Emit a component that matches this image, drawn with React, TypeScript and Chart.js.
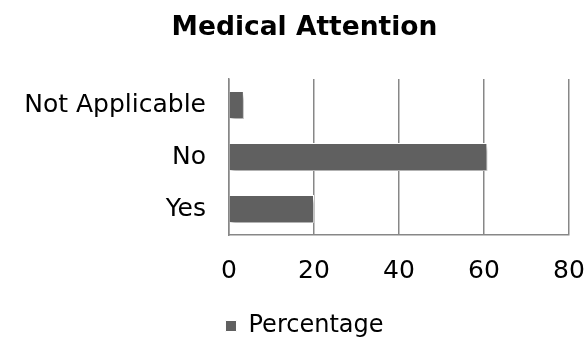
import React, { useEffect, useRef } from "react";
import { Chart, registerables } from "chart.js";

Chart.register(...registerables);

const categories = ["Not Applicable", "No", "Yes"];
const percentageValues = [3.5, 60.8, 20];
const xTicks = [0, 20, 40, 60, 80];
const titleText = "Medical Attention";
const seriesName = "Percentage";

const shadowPlugin = {
  id: "barShadow",
  beforeDatasetsDraw(chart: any) {
    const ctx = chart.ctx;
    ctx.save();
    ctx.shadowColor = "rgba(0,0,0,0.3)";
    ctx.shadowBlur = 4;
    ctx.shadowOffsetX = 2;
    ctx.shadowOffsetY = 5;
  },
  afterDatasetsDraw(chart: any) {
    chart.ctx.restore();
  },
};

export default function App() {
  const ref = useRef<HTMLCanvasElement | null>(null);
  useEffect(() => {
    document.body.style.margin = "0";
    const font = "'DejaVu Sans', sans-serif";
    const chart = new Chart(ref.current!, {
      type: "bar",
      data: {
        labels: categories,
        datasets: [
          {
            label: seriesName,
            data: percentageValues,
            backgroundColor: "#606060",
            borderColor: "#ffffff",
            borderWidth: 1,
            barPercentage: 0.6,
            categoryPercentage: 0.9,
          },
        ],
      },
      options: {
        indexAxis: "y",
        animation: false,
        responsive: false,
        maintainAspectRatio: false,
        layout: { padding: { left: 20, right: -2, top: 0, bottom: -10 } },
        plugins: {
          title: {
            display: true,
            text: titleText,
            color: "#000000",
            font: { family: font, size: 26.5, weight: "bold" },
            padding: { top: 12.1, bottom: 35.1 },
          },
          legend: {
            display: true,
            position: "bottom",
            labels: {
              color: "#000000",
              font: { family: font, size: 24 },
              boxWidth: 11,
              boxHeight: 11,
              padding: 2,
            },
          },
          tooltip: { enabled: false },
        },
        scales: {
          x: {
            min: 0,
            max: 80,
            afterBuildTicks(axis: any) {
              axis.ticks = xTicks.map((v) => ({ value: v }));
            },
            afterFit(axis: any) {
              axis.height = 77;
              axis.paddingLeft = 0;
              axis.paddingRight = 18;
            },
            grid: { color: "#878787", lineWidth: 1.5, drawTicks: false },
            border: { color: "#878787", width: 1.5 },
            ticks: { color: "#000000", font: { family: font, size: 25 }, padding: 21 },
          },
          y: {
            afterFit(axis: any) {
              axis.width = 209;
              axis.paddingTop = 0;
              axis.paddingBottom = 0;
            },
            grid: { display: false, drawTicks: false },
            border: { color: "#878787", width: 1.5 },
            ticks: { color: "#000000", font: { family: font, size: 25 }, padding: 23 },
          },
        },
      },
      plugins: [shadowPlugin],
    });
    return () => chart.destroy();
  }, []);
  return (
    <div style={{ width: 587, height: 338 }}>
      <canvas ref={ref} width={587} height={338} style={{ width: 587, height: 338 }} />
    </div>
  );
}
